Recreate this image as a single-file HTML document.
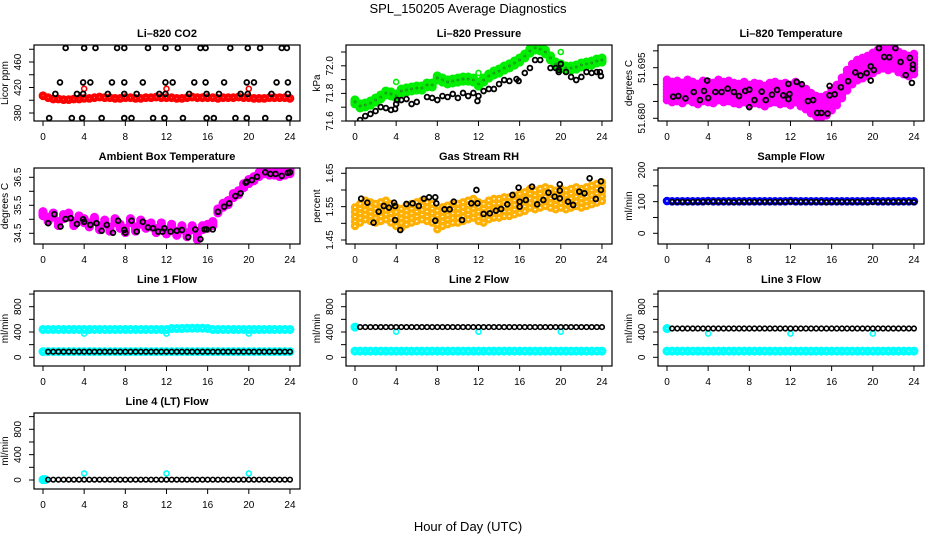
<!DOCTYPE html>
<html><head><meta charset="utf-8"><title>SPL_150205 Average Diagnostics</title>
<style>
html,body{margin:0;padding:0;background:#fff;}
svg{display:block;font-family:"Liberation Sans",Arial,sans-serif;}
</style></head>
<body>
<svg id="chart" width="936" height="540" viewBox="0 0 936 540" xmlns="http://www.w3.org/2000/svg">
<text x="468" y="13" text-anchor="middle" font-size="13">SPL_150205  Average Diagnostics</text>
<text x="468" y="531" text-anchor="middle" font-size="13">Hour of Day (UTC)</text>
</svg>
<script>
// ---------- data ----------
const HALF=[0,0.5,1,1.5,2,2.5,3,3.5,4,4.5,5,5.5,6,6.5,7,7.5,8,8.5,9,9.5,10,10.5,11,11.5,12,12.5,13,13.5,14,14.5,15,15.5,16,16.5,17,17.5,18,18.5,19,19.5,20,20.5,21,21.5,22,22.5,23,23.5,24];
const XTICKS=[0,4,8,12,16,20,24];
const OUTLIER_HOURS=[4,12,20];

const co2Red=[407,404,402,402,401,401,402,402,403,403,404,405,404,404,403,403,404,404,403,403,404,404,405,404,404,404,403,403,404,405,404,404,404,404,403,404,404,404,405,404,404,403,403,403,404,404,404,404,403];
const co2RedOutliers=[418,418,418];
const co2BlackHours=[2.2,4.0,5.1,7.2,7.9,10.2,11.9,13.1,15.3,15.8,18.2,19.9,21.1,23.2,23.7,1.65,3.9,4.6,6.7,7.9,9.7,11.9,12.6,14.7,15.8,17.6,19.8,20.5,22.7,23.8,1.2,3.3,3.9,6.3,7.9,9.1,11.3,11.9,14.2,15.9,17.1,19.2,19.9,22.2,23.8,0.6,2.8,3.8,5.7,7.9,8.6,10.7,11.8,13.6,15.9,16.6,18.7,19.8,21.6,23.9];
const co2BlackVals=[482,482,482,482,482,482,482,482,482,482,482,482,482,482,482,428,428,428,428,428,428,428,428,428,428,428,428,428,428,428,410,410,410,410,410,410,410,410,410,410,410,410,410,410,410,372,372,372,372,372,372,372,372,372,372,372,372,372,372,372];

const presGreen=[71.738,71.709,71.716,71.73,71.752,71.774,71.803,71.796,71.781,71.817,71.825,71.832,71.839,71.839,71.861,71.861,71.912,71.897,71.883,71.89,71.897,71.904,71.904,71.897,71.868,71.897,71.926,71.948,71.962,71.984,71.999,72.02,72.042,72.071,72.107,72.129,72.122,72.1,72.057,72.013,71.999,71.984,71.984,71.991,72.006,72.013,72.02,72.035,72.042];
const presGreenOutliers=[71.883,71.948,72.1];
const presBlackHours=[0.5,1,1.5,2,2.5,3,3.5,3.9,4,4.1,4.5,5,5.5,6,7,7.5,8,8.5,9,9.5,10,10.5,11,11.5,11.9,12,12.5,13,13.5,14,14.5,15,15.7,15.9,16.5,17,17.5,18,19,19.5,19.8,19.8,20,20.5,21,21.5,22,22.5,23,23.5,23.8,23.9];
const presBlackVals=[71.607,71.636,71.651,71.672,71.701,71.694,71.68,71.687,71.723,71.752,71.752,71.759,71.723,71.738,71.774,71.767,71.752,71.781,71.774,71.796,71.767,71.803,71.781,71.803,71.745,71.781,71.817,71.832,71.832,71.868,71.897,71.89,71.904,71.89,71.948,71.984,72.042,72.042,71.984,71.984,71.955,71.97,72.013,71.955,71.919,71.897,71.919,71.955,71.948,71.955,71.955,71.926];

const tempMagenta=[51.6884,51.6878,51.6881,51.6875,51.6884,51.6878,51.6872,51.6881,51.6878,51.6875,51.6884,51.6878,51.6881,51.6875,51.6872,51.6878,51.6869,51.6875,51.6872,51.6866,51.6875,51.6878,51.6872,51.6875,51.6869,51.6878,51.6866,51.6857,51.6845,51.6836,51.6833,51.6839,51.6854,51.6869,51.6890,51.6913,51.6931,51.6943,51.6949,51.6955,51.6964,51.6973,51.6978,51.6973,51.6978,51.6967,51.6961,51.6955,51.6961];
const tempSpread=0.0030;
const tempBlackHours=[0.6,1.1,1.8,2.6,3.2,3.6,3.9,4.0,4.7,5.3,5.9,6.5,7.0,7.6,8.0,8.0,8.5,9.2,9.6,10.2,10.7,11.3,11.8,11.8,11.9,12.6,13.1,13.7,14.2,14.6,15.0,15.6,15.8,15.8,16.3,16.9,17.6,18.3,18.8,19.4,19.8,19.8,20.1,20.6,21.1,21.6,22.2,22.7,23.2,23.6,23.8,23.9,23.9];
const tempBlackVals=[51.6864,51.6866,51.6859,51.6878,51.6854,51.6881,51.6912,51.6860,51.6878,51.6878,51.6888,51.6878,51.6866,51.6881,51.6885,51.6833,51.6854,51.6879,51.6854,51.6870,51.6884,51.6868,51.6857,51.6902,51.6872,51.6908,51.6901,51.6851,51.6854,51.6816,51.6816,51.6814,51.6868,51.6896,51.6871,51.6892,51.6910,51.6936,51.6927,51.6934,51.6912,51.6954,51.6943,51.7008,51.6982,51.6981,51.7008,51.6967,51.6928,51.6979,51.6905,51.6946,51.6959];

const ambMagenta=[35.2,35.0,35.15,34.85,35.1,35.15,34.85,35.05,34.95,34.8,35.0,34.7,34.9,34.65,34.95,34.75,34.6,34.95,34.65,34.9,34.75,34.8,34.6,34.8,34.55,34.75,34.5,34.7,34.45,34.7,34.35,34.7,34.75,34.85,35.3,35.5,35.6,35.85,35.95,36.2,36.35,36.45,36.6,36.7,36.65,36.65,36.6,36.65,36.7];
const ambBlackHours=[0.5,1.1,1.7,2.2,2.7,3.3,3.9,4.0,4.6,5.2,5.7,6.2,6.8,7.3,7.9,8.0,8.6,9.1,9.7,10.2,10.7,11.2,11.6,11.8,12.4,13,13.5,14.1,14.8,15.3,15.7,15.9,16.5,17,17.6,18.1,18.7,19.2,19.7,19.8,20.3,20.8,21.6,22.1,22.6,23.2,23.8,24];
const ambBlackVals=[34.86,35.18,34.74,35.01,35.04,34.83,35.0,34.91,34.8,34.86,34.59,34.8,34.52,34.95,34.62,34.52,34.95,34.56,34.91,34.71,34.68,34.56,34.56,34.68,34.56,34.59,34.62,34.36,34.64,34.29,34.64,34.64,34.64,35.27,35.45,35.57,35.83,35.93,36.31,36.34,36.4,36.52,36.68,36.62,36.62,36.55,36.66,36.68];

const rhBand=[1.52,1.53,1.54,1.535,1.53,1.535,1.54,1.53,1.52,1.515,1.525,1.53,1.535,1.54,1.535,1.53,1.51,1.52,1.525,1.53,1.53,1.535,1.54,1.545,1.535,1.53,1.54,1.545,1.545,1.55,1.55,1.555,1.56,1.565,1.575,1.57,1.575,1.58,1.575,1.57,1.575,1.57,1.575,1.58,1.575,1.58,1.585,1.59,1.595];
const rhSpread=0.028;
const rhBlackHours=[0.6,1.2,1.8,2.3,2.8,3.3,3.8,3.9,3.9,4.4,5.0,5.6,6.2,6.7,7.2,7.8,7.9,7.8,8.7,9.2,9.6,10.4,11.3,11.8,11.9,12.5,13.1,13.7,14.2,14.8,15.3,15.9,16.0,16.0,16.6,17.2,17.7,18.3,18.8,19.4,19.9,19.9,19.9,20.7,21.2,21.8,22.3,22.8,23.4,23.9,23.9];
const rhBlackVals=[1.574,1.562,1.502,1.535,1.552,1.547,1.562,1.552,1.51,1.48,1.558,1.56,1.552,1.574,1.578,1.578,1.56,1.508,1.542,1.542,1.565,1.51,1.56,1.60,1.56,1.528,1.53,1.538,1.543,1.557,1.585,1.607,1.565,1.55,1.57,1.61,1.557,1.57,1.592,1.58,1.617,1.598,1.575,1.565,1.555,1.595,1.59,1.635,1.573,1.626,1.60];

const sampleBlue=[102,101,101,101,101,101,101,101,102,101,101,101,101,101,101,101,101,101,101,101,101,101,101,101,102,101,101,101,101,101,101,101,101,101,101,101,101,101,101,101,102,101,101,101,101,101,101,101,101];
const sampleBlack=[99,99,99,98,99,99,99,99,100,99,99,99,98,99,99,99,99,99,99,99,99,99,99,100,99,99,99,99,99,99,98,99,99,99,99,99,99,99,98,99,99,99,99,99,99,99,99,98];

const line1CyanHigh=[440,440,440,440,440,440,440,440,440,440,440,440,440,440,440,440,440,440,440,440,440,440,440,440,440,455,455,455,460,460,460,460,455,440,440,440,440,440,440,440,440,440,440,440,440,440,440,440,440];
const line1CyanLow=[90,90,90,90,90,90,90,90,90,90,90,90,90,90,90,90,90,90,90,90,90,90,90,90,90,90,90,90,90,90,90,90,90,90,90,90,90,90,90,90,90,90,90,90,90,90,90,90,90];
const line1Black=[88,88,88,88,88,88,88,88,88,88,88,88,88,88,88,88,88,88,88,88,88,88,88,88,88,88,88,88,88,88,88,88,88,88,88,88,88,88,88,88,88,88,88,88,88,88,88,88];
const line1Dips=[375,375,375];

const line2CyanLow=[98,98,98,98,98,98,98,98,98,98,98,98,98,98,98,98,98,98,98,98,98,98,98,98,98,98,98,98,98,98,98,98,98,98,98,98,98,98,98,98,98,98,98,98,98,98,98,98,98];
const line2Black=[478,478,478,478,478,478,478,478,478,478,478,478,478,478,478,478,478,478,478,478,478,478,478,478,478,478,478,478,478,478,478,478,478,478,478,478,478,478,478,478,478,478,478,478,478,478,478,478];
const line2Dips=[405,405,405];

const line3CyanLow=[98,98,98,98,98,98,98,98,98,98,98,98,98,98,98,98,98,98,98,98,98,98,98,98,98,98,98,98,98,98,98,98,98,98,98,98,98,98,98,98,98,98,98,98,98,98,98,98,98];
const line3Black=[455,455,455,455,455,455,455,455,455,455,455,455,455,455,455,455,455,455,455,455,455,455,455,455,455,455,455,455,455,455,455,455,455,455,455,455,455,455,455,455,455,455,455,455,455,455,455,455];
const line3Dips=[375,375,375];

const line4Black=[5,5,5,5,5,5,5,5,5,5,5,5,5,5,5,5,5,5,5,5,5,5,5,5,5,5,5,5,5,5,5,5,5,5,5,5,5,5,5,5,5,5,5,5,5,5,5,5];
const line4Spikes=[104,104,104];

// ---------- drawing ----------
const NS='http://www.w3.org/2000/svg';
const svg=document.getElementById('chart');
function mk(tag,attrs,parent){const e=document.createElementNS(NS,tag);for(const k in attrs)e.setAttribute(k,attrs[k]);(parent||svg).appendChild(e);return e;}
const ROWTOP=[45,168,291,413], ROWH=[76,76,75,76];

function panel(p){
  const L=34+312*p.col, T=ROWTOP[p.row], H=ROWH[p.row], W=266;
  const g=mk('g',{});
  
  
  const sx=h=>L+9+h*10.29;
  const sy=v=>p.y0+(v-p.v0)*(p.y1-p.y0)/(p.v1-p.v0);
  const clipId='clip-'+p.name;
  const cp=mk('clipPath',{id:clipId},g);
  mk('rect',{x:L,y:T,width:W,height:H},cp);
  const data=mk('g',{'clip-path':'url(#'+clipId+')'},g);
  
  
  const title=mk('text',{x:L+W/2,y:T-8,'text-anchor':'middle','font-size':11,'font-weight':'bold'},g);
  title.textContent=p.title;
  
  
  const box=mk('rect',{x:L,y:T,width:W,height:H,fill:'none',stroke:'#000','stroke-width':1.2},g);
  
  
  XTICKS.forEach(h=>{
    mk('line',{x1:sx(h),x2:sx(h),y1:T+H,y2:T+H+5,stroke:'#000'},g);
    const t=mk('text',{x:sx(h),y:T+H+19,'text-anchor':'middle','font-size':10},g);
    t.textContent=h;
    
    
  });
  p.ticks.forEach(v=>{mk('line',{x1:L-5,x2:L,y1:sy(v),y2:sy(v),stroke:'#000'},g);});
  p.labVals.forEach((v,i)=>{
    const t=mk('text',{x:L-13,y:sy(v),'text-anchor':'middle','font-size':10,transform:'rotate(-90 '+(L-13)+' '+sy(v)+')'},g);
    t.textContent=p.labText[i];
    
    
  });
  const yl=mk('text',{x:L-26,y:T+H/2,'text-anchor':'middle','font-size':10,transform:'rotate(-90 '+(L-26)+' '+(T+H/2)+')'},g);
  yl.textContent=p.ylab;
  
  
  g.appendChild(box);
  return {g:data,sx,sy};
}
function dots(P,hours,vals,color,r,sw,name,offset){
  vals.forEach((v,i)=>{
    const c=mk('circle',{cx:P.sx(hours[i]),cy:P.sy(v+(offset||0)),r:r,fill:'none',stroke:color,'stroke-width':sw},P.g);
    
    
  });
}
const BLK=HALF.slice(1);

// CO2
let P=panel({name:'co2-panel',title:'Li\u2013820 CO2',col:0,row:0,v0:380,y0:113,v1:460,y1:62,ticks:[380,400,420,440,460,480],labVals:[380,420,460],labText:['380','420','460'],ylab:'Licor ppm'});
dots(P,HALF,co2Red,'#ff0000',2.4,4,'co2-red-point');
dots(P,OUTLIER_HOURS,co2RedOutliers,'#ff0000',2.5,1.6,'co2-red-outlier');
dots(P,co2BlackHours,co2BlackVals,'#000',2.4,1.8,'co2-black-point');

// Pressure
P=panel({name:'pressure-panel',title:'Li\u2013820 Pressure',col:1,row:0,v0:71.6,y0:121,v1:72.0,y1:65.8,ticks:[71.6,71.7,71.8,71.9,72.0,72.1],labVals:[71.6,71.8,72.0],labText:['71.6','71.8','72.0'],ylab:'kPa'});
dots(P,HALF,presGreen,'#00ee00',2.6,4,'pressure-green-point',0.014);
dots(P,HALF,presGreen,'#00ee00',2.6,4,'pressure-green-point',-0.014);
dots(P,HALF,presGreen,'#00ee00',2.6,4,'pressure-green-point',0);
dots(P,HALF,presGreen,'#1a8a1a',1,0.8,'pressure-green-core');
dots(P,OUTLIER_HOURS,presGreenOutliers,'#00ee00',2.5,1.6,'pressure-green-outlier');
dots(P,presBlackHours,presBlackVals,'#000',2.4,1.8,'pressure-black-point');

// Temperature
P=panel({name:'temperature-panel',title:'Li\u2013820 Temperature',col:2,row:0,v0:51.680,y0:118.3,v1:51.695,y1:67.7,ticks:[51.680,51.685,51.690,51.695,51.700],labVals:[51.680,51.695],labText:['51.680','51.695'],ylab:'degrees C'});
[-1,-0.66,-0.33,0,0.33,0.66,1].forEach(k=>dots(P,HALF,tempMagenta,'#ff00ff',2.4,3.8,'temperature-magenta-point',k*tempSpread));
dots(P,tempBlackHours,tempBlackVals,'#000',2.4,1.8,'temperature-black-point');

// Ambient
P=panel({name:'ambient-temp-panel',title:'Ambient Box Temperature',col:0,row:1,v0:34.5,y0:233.3,v1:36.5,y1:177.3,ticks:[34.5,35,35.5,36,36.5],labVals:[34.5,35.5,36.5],labText:['34.5','35.5','36.5'],ylab:'degrees C'});
[-0.07,0,0.07].forEach(k=>dots(P,HALF,ambMagenta,'#ff00ff',2.6,4,'ambient-magenta-point',k));
dots(P,ambBlackHours,ambBlackVals,'#000',2.4,1.8,'ambient-black-point');

// RH
P=panel({name:'rh-panel',title:'Gas Stream RH',col:1,row:1,v0:1.45,y0:240,v1:1.65,y1:173.3,ticks:[1.45,1.5,1.55,1.6,1.65],labVals:[1.45,1.55,1.65],labText:['1.45','1.55','1.65'],ylab:'percent'});
[-1,-0.5,0,0.5,1].forEach(k=>dots(P,HALF,rhBand,'#ffb000',2.6,3.2,'rh-orange-point',k*rhSpread));
dots(P,rhBlackHours,rhBlackVals,'#000',2.4,1.8,'rh-black-point');

// Sample flow
P=panel({name:'sample-flow-panel',title:'Sample Flow',col:2,row:1,v0:0,y0:233.3,v1:200,y1:170,ticks:[0,50,100,150,200],labVals:[0,100,200],labText:['0','100','200'],ylab:'ml/min'});
dots(P,HALF,sampleBlue,'#0000ff',2.6,3.4,'sample-blue-point');
dots(P,BLK,sampleBlack,'#000',2.3,1.6,'sample-black-point');

const FT=[0,200,400,600,800,1000], FL=[0,400,800], FLT=['0','400','800'];
// Line 1
P=panel({name:'line1-flow-panel',title:'Line 1 Flow',col:0,row:2,v0:0,y0:357.3,v1:800,y1:306.7,ticks:FT,labVals:FL,labText:FLT,ylab:'ml/min'});
dots(P,HALF,line1CyanHigh,'#00ffff',2.5,4,'line1-cyan-high-point');
dots(P,HALF,line1CyanLow,'#00ffff',2.5,4,'line1-cyan-low-point');
dots(P,OUTLIER_HOURS,line1Dips,'#00ffff',2.5,1.6,'line1-cyan-dip');
dots(P,BLK,line1Black,'#000',2.3,1.6,'line1-black-point');
// Line 2
P=panel({name:'line2-flow-panel',title:'Line 2 Flow',col:1,row:2,v0:0,y0:357.3,v1:800,y1:306.7,ticks:FT,labVals:FL,labText:FLT,ylab:'ml/min'});
dots(P,HALF,line2CyanLow,'#00ffff',2.5,4,'line2-cyan-low-point');
dots(P,[0],[478],'#00ffff',2.5,4,'line2-cyan-high-point');
dots(P,OUTLIER_HOURS,line2Dips,'#00ffff',2.5,1.6,'line2-cyan-dip');
dots(P,BLK,line2Black,'#000',2.3,1.6,'line2-black-point');
// Line 3
P=panel({name:'line3-flow-panel',title:'Line 3 Flow',col:2,row:2,v0:0,y0:357.3,v1:800,y1:306.7,ticks:FT,labVals:FL,labText:FLT,ylab:'ml/min'});
dots(P,HALF,line3CyanLow,'#00ffff',2.5,4,'line3-cyan-low-point');
dots(P,[0],[455],'#00ffff',2.5,4,'line3-cyan-high-point');
dots(P,OUTLIER_HOURS,line3Dips,'#00ffff',2.5,1.6,'line3-cyan-dip');
dots(P,BLK,line3Black,'#000',2.3,1.6,'line3-black-point');
// Line 4
P=panel({name:'line4-flow-panel',title:'Line 4 (LT) Flow',col:0,row:3,v0:0,y0:480,v1:800,y1:429.3,ticks:FT,labVals:FL,labText:FLT,ylab:'ml/min'});
dots(P,[0,0.2],[5,5],'#00ffff',2.5,4,'line4-cyan-point');
dots(P,OUTLIER_HOURS,line4Spikes,'#00ffff',2.5,1.6,'line4-cyan-spike');
dots(P,BLK,line4Black,'#000',2.3,1.6,'line4-black-point');
</script>
</body></html>
